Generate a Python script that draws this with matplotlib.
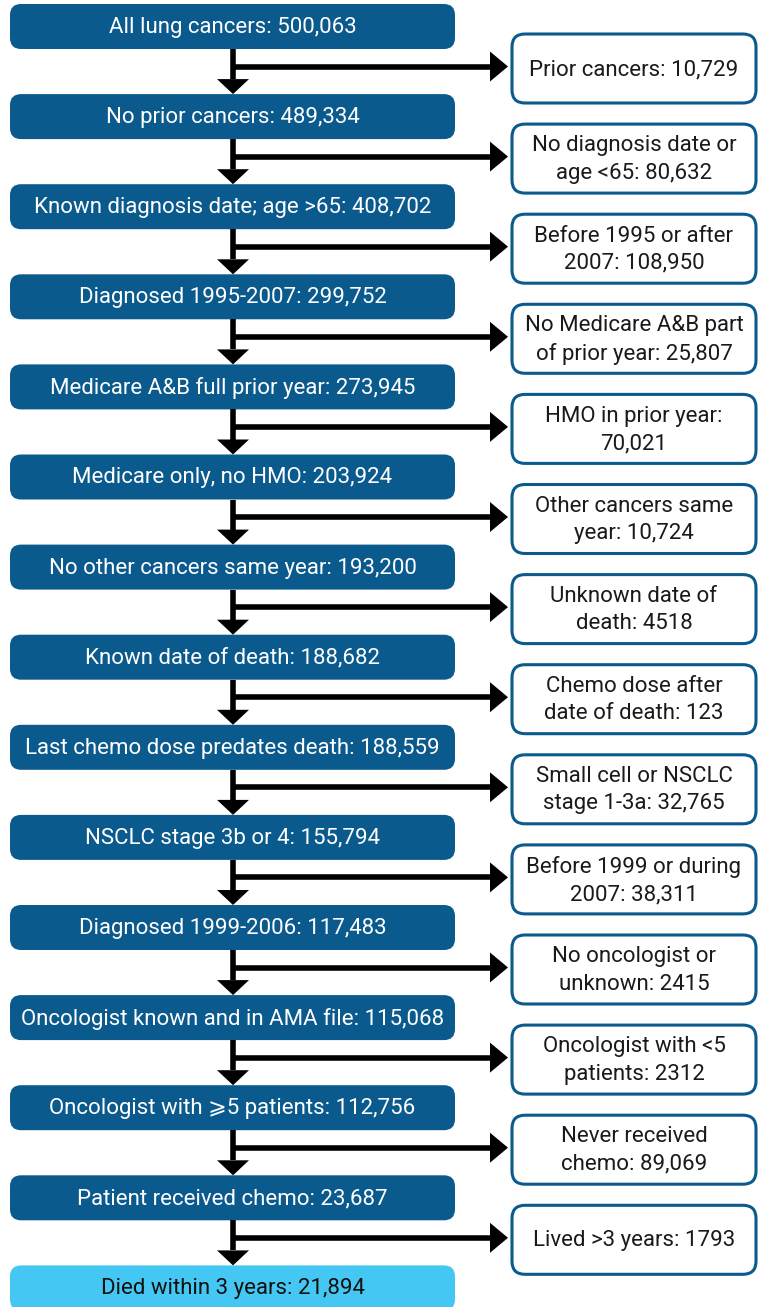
import matplotlib
matplotlib.use("Agg")
import matplotlib.pyplot as plt
from matplotlib.patches import FancyBboxPatch, Polygon

# flow steps (left column) and exclusions (right column)
kept = [
    "All lung cancers: 500,063",
    "No prior cancers: 489,334",
    "Known diagnosis date; age >65: 408,702",
    "Diagnosed 1995-2007: 299,752",
    "Medicare A&B full prior year: 273,945",
    "Medicare only, no HMO: 203,924",
    "No other cancers same year: 193,200",
    "Known date of death: 188,682",
    "Last chemo dose predates death: 188,559",
    "NSCLC stage 3b or 4: 155,794",
    "Diagnosed 1999-2006: 117,483",
    "Oncologist known and in AMA file: 115,068",
    "Oncologist with \u2a7e5 patients: 112,756",
    "Patient received chemo: 23,687",
    "Died within 3 years: 21,894",
]
excluded = [
    "Prior cancers: 10,729",
    "No diagnosis date or\nage <65: 80,632",
    "Before 1995 or after\n2007: 108,950",
    "No Medicare A&B part\nof prior year: 25,807",
    "HMO in prior year:\n70,021",
    "Other cancers same\nyear: 10,724",
    "Unknown date of\ndeath: 4518",
    "Chemo dose after\ndate of death: 123",
    "Small cell or NSCLC\nstage 1-3a: 32,765",
    "Before 1999 or during\n2007: 38,311",
    "No oncologist or\nunknown: 2415",
    "Oncologist with <5\npatients: 2312",
    "Never received\nchemo: 89,069",
    "Lived >3 years: 1793",
]

DARK = "#0b5a8d"
LIGHT = "#44c8f3"
FONT = ["Roboto", "DejaVu Sans"]
FS = 16

W, H = 758, 1307
fig = plt.figure(figsize=(W / 100, H / 100), dpi=100)
ax = fig.add_axes([0, 0, 1, 1])
ax.set_xlim(0, W)
ax.set_ylim(H, 0)
ax.axis("off")

step = 90.1
lx0, lx1, lh = 10, 455, 45
rx0, rx1, rh = 512, 756, 69
cx = 233
head_w, head_h = 32, 15

for i, label in enumerate(kept):
    top = 4 + step * i
    face = LIGHT if i == len(kept) - 1 else DARK
    color = "#111111" if i == len(kept) - 1 else "white"
    ax.add_patch(FancyBboxPatch((lx0, top), lx1 - lx0, lh,
                                boxstyle="round,pad=0,rounding_size=11",
                                fc=face, ec="none"))
    ax.text((lx0 + lx1) / 2, top + lh / 2 + 1, label, ha="center", va="center",
            color=color, fontsize=FS, family=FONT)

for i, label in enumerate(excluded):
    bottom = 4 + step * i + lh
    nxt = 4 + step * (i + 1)
    ay = bottom + 17.5
    # down arrow
    ax.plot([cx, cx], [bottom, nxt - head_h], color="black", lw=4, solid_capstyle="butt")
    ax.add_patch(Polygon([(cx - head_w / 2, nxt - head_h), (cx + head_w / 2, nxt - head_h), (cx, nxt)],
                         closed=True, fc="black", ec="none"))
    # side arrow
    ax.plot([cx - 2, rx0 - 4 - 18], [ay, ay], color="black", lw=4, solid_capstyle="butt")
    ax.add_patch(Polygon([(rx0 - 4 - 18, ay - 15), (rx0 - 4 - 18, ay + 15), (rx0 - 4, ay)],
                         closed=True, fc="black", ec="none"))
    # excluded box
    rc = ay + 2
    ax.add_patch(FancyBboxPatch((rx0, rc - rh / 2), rx1 - rx0, rh,
                                boxstyle="round,pad=0,rounding_size=13",
                                fc="white", ec=DARK, lw=2.2))
    ax.text((rx0 + rx1) / 2, rc + 1, label, ha="center", va="center",
            color="#1a1a1a", fontsize=FS, family=FONT, linespacing=1.4)

fig.savefig("out.png", dpi=100)
